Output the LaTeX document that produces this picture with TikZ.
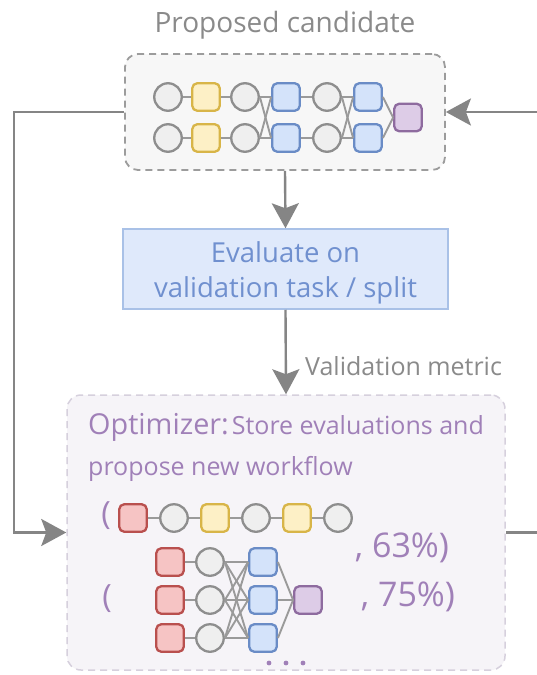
\documentclass[tikz,border=0pt]{standalone}
\usepackage{fontspec}
\setmainfont{Open Sans}
\usetikzlibrary{arrows.meta}
\definecolor{cfill}{HTML}{EFEFEF}
\definecolor{cdraw}{HTML}{8E8E8E}
\definecolor{yfill}{HTML}{FDF0C6}
\definecolor{ydraw}{HTML}{D8B548}
\definecolor{bfill}{HTML}{D4E3FA}
\definecolor{bdraw}{HTML}{6A8CC6}
\definecolor{pfill}{HTML}{DDCCE7}
\definecolor{pdraw}{HTML}{8E6B9F}
\definecolor{rfill}{HTML}{F6C4C4}
\definecolor{rdraw}{HTML}{B9504E}
\definecolor{lgray}{HTML}{9A9A9A}
\definecolor{agray}{HTML}{858585}
\definecolor{tgray}{HTML}{8A8A8A}
\definecolor{topfill}{HTML}{F7F7F7}
\definecolor{topdraw}{HTML}{9C9C9C}
\definecolor{evfill}{HTML}{DFE9FB}
\definecolor{evdraw}{HTML}{A9C1E7}
\definecolor{evtext}{HTML}{7090CF}
\definecolor{optfill}{HTML}{F6F4F8}
\definecolor{optdraw}{HTML}{D6D0DD}
\definecolor{purtext}{HTML}{A080B8}
\begin{document}
\begin{tikzpicture}[x=1pt,y=-1pt,
  circ/.style={circle, draw=cdraw, fill=cfill, line width=2.3pt, minimum size=27.5pt, inner sep=0pt},
  sq/.style={rectangle, rounded corners=5pt, line width=2.3pt, minimum size=27.5pt, inner sep=0pt},
  ysq/.style={sq, draw=ydraw, fill=yfill},
  bsq/.style={sq, draw=bdraw, fill=bfill},
  psq/.style={sq, draw=pdraw, fill=pfill},
  rsq/.style={sq, draw=rdraw, fill=rfill},
  link/.style={draw=lgray, line width=1.9pt},
  flow/.style={draw=agray, line width=2.4pt, -{Stealth[length=25pt,width=27pt,inset=5pt]}},
  purtxt/.style={text=purtext, inner sep=0pt}
]
\useasboundingbox (0,0) rectangle (537,675);
\clip (0,0) rectangle (537,675);
\fill[white] (0,0) rectangle (537,675);

% title
\node[text=tgray, font=\fontsize{28}{32}\selectfont] (title) at (285,25) {Proposed candidate};

% candidate box
\node[draw=topdraw, fill=topfill, dash pattern=on 7pt off 5pt, line width=1.8pt, rounded corners=13pt,
  minimum width=320pt, minimum height=116pt] (cand) at (285,112) {};

% candidate network
\node[circ] (t1a) at (168,97) {};
\node[circ] (t1b) at (168,138) {};
\node[ysq] (t2a) at (206,97) {};
\node[ysq] (t2b) at (206,138) {};
\node[circ] (t3a) at (245,97) {};
\node[circ] (t3b) at (245,138) {};
\node[bsq] (t4a) at (286,97) {};
\node[bsq] (t4b) at (286,138) {};
\node[circ] (t5a) at (327,97) {};
\node[circ] (t5b) at (327,138) {};
\node[bsq] (t6a) at (368,97) {};
\node[bsq] (t6b) at (368,138) {};
\node[psq] (t7) at (408,117.5) {};
\foreach \r in {a,b}{
  \draw[link] (t1\r.east) -- (t2\r.west);
  \draw[link] (t2\r.east) -- (t3\r.west);
  \draw[link] (t4\r.east) -- (t5\r.west);
  \draw[link] (t6\r.east) -- (t7.west);
  \foreach \s in {a,b}{
    \draw[link] (t3\r.east) -- (t4\s.west);
    \draw[link] (t5\r.east) -- (t6\s.west);
  }
}

% evaluate box
\node[draw=evdraw, fill=evfill, line width=1.5pt, minimum width=325pt, minimum height=80pt] (eval) at (285.5,269) {};
\node[align=center, text=evtext, inner sep=0pt, font=\fontsize{27.5}{35}\selectfont] (evtxt) at (285.5,273)
  {Evaluate on\\validation task / split};

% optimizer box
\node[draw=optdraw, fill=optfill, dash pattern=on 7pt off 5pt, line width=1.5pt, rounded corners=14pt,
  minimum width=438pt, minimum height=275pt] (opt) at (286,532.5) {};

\node[purtxt, anchor=base west] (o1) at (88,434)
  {{\fontsize{28.8}{32}\selectfont Optimizer:}\hspace{3pt}{\fontsize{25}{29}\selectfont Store evaluations and}};
\node[purtxt, anchor=base west, font=\fontsize{25}{29}\selectfont] (o2) at (88,475) {propose new workflow};

% flow arrows
\draw[flow] (cand.south) -- (eval.north);
\draw[flow] (eval.south) -- (opt.north);
\node[anchor=west, inner sep=0pt, text=tgray, font=\fontsize{25}{29}\selectfont] (vm) at (305,366) {Validation metric};
\coordinate (lt) at (14,112);
\coordinate (lb) at (14,532.5);
\coordinate (rb) at (560,532.5);
\coordinate (rt) at (560,112);
\draw[flow] (cand.west) -- (lt) -- (lb) -- (opt.west);
\draw[flow] (opt.east) -- (rb) -- (rt) -- (cand.east);

% first workflow
\node[purtxt, font=\fontsize{32}{36}\selectfont] (p1) at (106,516) {(};
\node[rsq] (a1) at (133,518) {};
\node[circ] (a2) at (174,518) {};
\node[ysq] (a3) at (215,518) {};
\node[circ] (a4) at (256,518) {};
\node[ysq] (a5) at (297,518) {};
\node[circ] (a6) at (338,518) {};
\draw[link] (a1) -- (a2) -- (a3) -- (a4) -- (a5) -- (a6);
\node[purtxt, font=\fontsize{34}{38}\selectfont] (s1) at (402,548) {, 63\%)};

% second workflow
\node[purtxt, font=\fontsize{32}{36}\selectfont] (p2) at (107,599) {(};
\foreach \i/\y in {1/562,2/600,3/638}{
  \node[rsq] (r\i) at (170,\y) {};
  \node[circ] (c\i) at (210,\y) {};
  \node[bsq] (b\i) at (263,\y) {};
  \draw[link] (r\i) -- (c\i);
}
\node[psq] (pp) at (308,600) {};
\foreach \i in {1,2,3}{
  \foreach \j in {1,2,3}{
    \draw[link] (c\i.east) -- (b\j.west);
  }
  \draw[link] (b\i.east) -- (pp.west);
}
\node[purtxt, font=\fontsize{34}{38}\selectfont] (s2) at (408,597) {, 75\%)};
\foreach \k/\x in {1/269,2/286,3/303}{
  \fill[purtext] (\x,663) circle (2.4pt);
}
\end{tikzpicture}
\end{document}
